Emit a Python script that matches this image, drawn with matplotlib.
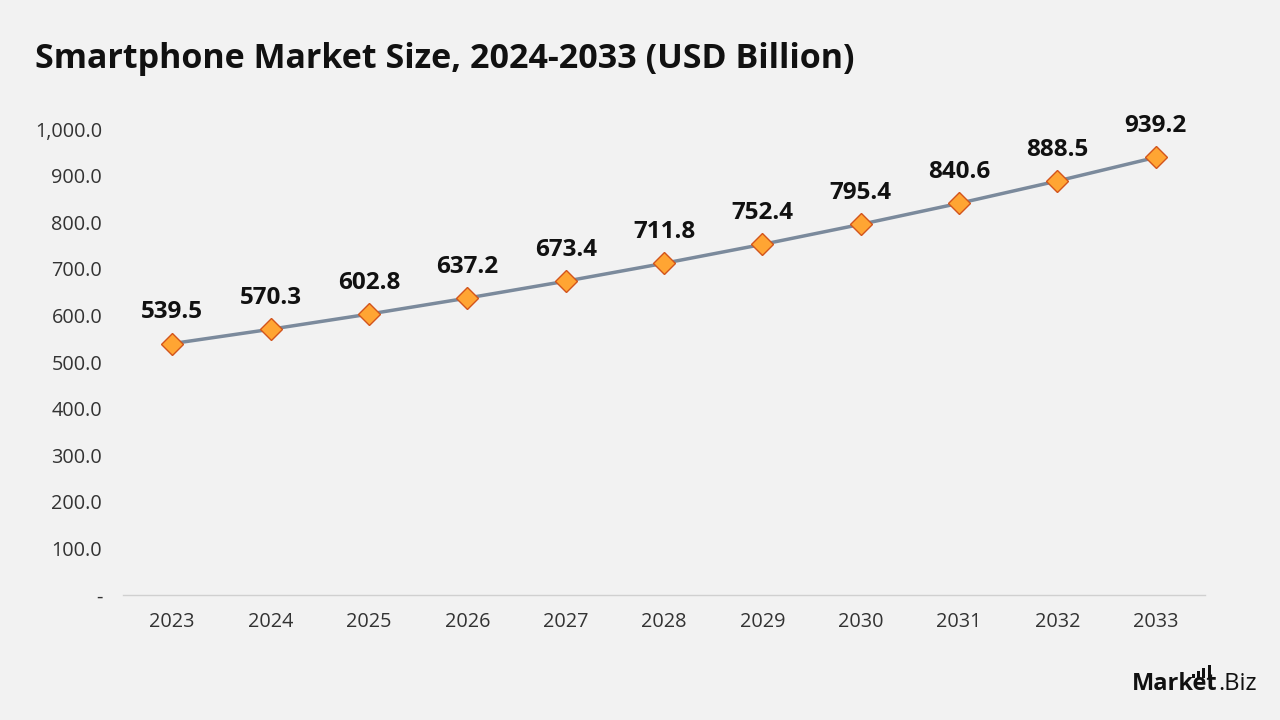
import matplotlib.pyplot as plt
from matplotlib.ticker import FuncFormatter

years = ['2023', '2024', '2025', '2026', '2027', '2028', '2029', '2030', '2031', '2032', '2033']
market_size = [539.5, 570.3, 602.8, 637.2, 673.4, 711.8, 752.4, 795.4, 840.6, 888.5, 939.2]
y_ticks = [0, 100, 200, 300, 400, 500, 600, 700, 800, 900, 1000]
logo_bars = [1.5, 2.5, 3.5, 4.5]

bg = '#F2F2F2'
plt.rcParams['font.family'] = ['Open Sans', 'DejaVu Sans']

fig = plt.figure(figsize=(12.8, 7.2), dpi=100, facecolor=bg)
ax = fig.add_axes([0.0961, 0.1736, 0.8453, 0.6472], facecolor=bg)

x = list(range(len(years)))
ax.plot(x, market_size, color='#7B8A9C', lw=2.5, zorder=2)
ax.plot(x, market_size, linestyle='none', marker='D', markersize=11,
        markerfacecolor='#FFA533', markeredgecolor='#D2541C', markeredgewidth=1, zorder=3)

for xi, v in zip(x, market_size):
    ax.annotate(f'{v:.1f}', (xi, v), xytext=(0, 14), textcoords='offset points',
                ha='center', va='bottom', fontsize=17.5, fontweight='bold', color='#111111')

ax.set_xlim(-0.5, len(years) - 0.5)
ax.set_ylim(0, 1000)
ax.set_xticks(x)
ax.set_xticklabels(years)
ax.set_yticks(y_ticks)
ax.yaxis.set_major_formatter(FuncFormatter(lambda v, p: '-' if v == 0 else f'{v:,.1f}'))
ax.tick_params(axis='both', length=0, labelsize=14.3, colors='#333333')
ax.tick_params(axis='x', pad=12)
ax.tick_params(axis='y', pad=15)

for s in ['top', 'right', 'left']:
    ax.spines[s].set_visible(False)
ax.spines['bottom'].set_color('#D0D0D0')
ax.spines['bottom'].set_linewidth(1)

fig.text(0.027, 0.918, 'Smartphone Market Size, 2024-2033 (USD Billion)',
         fontsize=24.5, fontweight='bold', color='#111111', va='center')

# logo
fig.text(0.9515, 0.041, 'Market', fontsize=17, fontweight='bold', color='#111111', ha='right')
fig.text(0.9515, 0.041, '.Biz', fontsize=17, color='#111111', ha='left')
lax = fig.add_axes([0.9305, 0.058, 0.016, 0.018], facecolor='none')
lax.bar(range(len(logo_bars)), logo_bars, width=0.55, color='#111111')
lax.set_xlim(-0.4, len(logo_bars) - 0.6)
lax.set_ylim(0, max(logo_bars))
lax.axis('off')

fig.savefig('out.png', dpi=100, facecolor=bg)
